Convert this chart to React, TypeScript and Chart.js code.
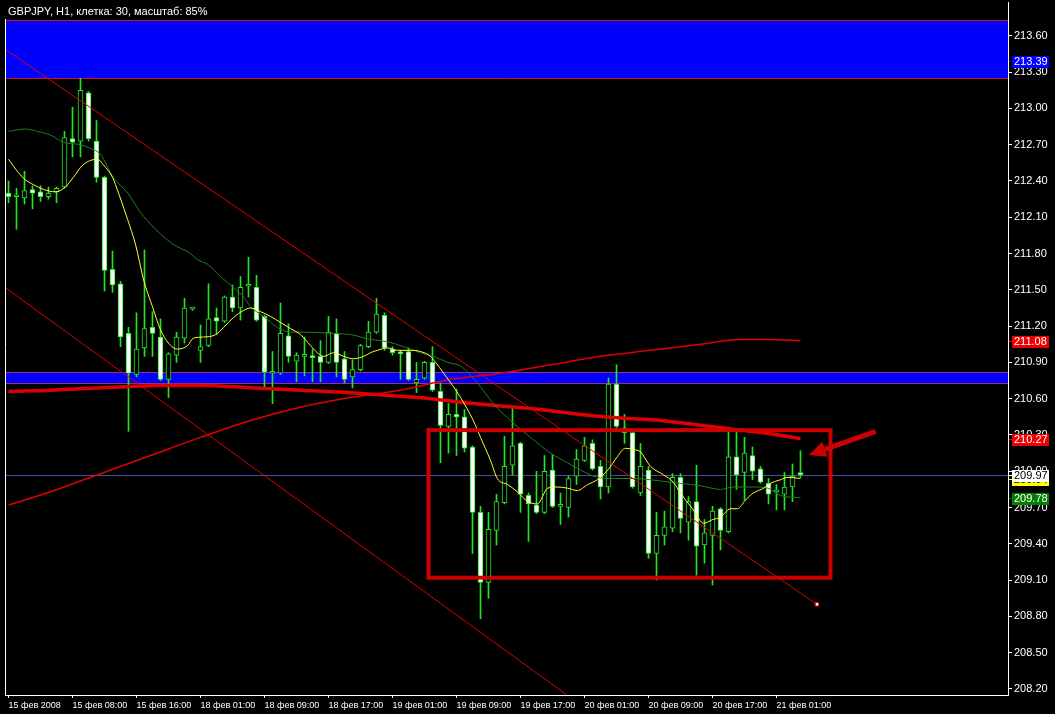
import React, { useEffect, useRef } from 'react';
import { Chart, registerables } from 'chart.js';

Chart.register(...registerables);

// ---- chart content -------------------------------------------------------

const chartTitle = 'GBPJPY, H1, клетка: 30, масштаб: 85%';

// hourly bars, one per index; labels every 8 bars
const timeTickIndex = [0, 8, 16, 24, 32, 40, 48, 56, 64, 72, 80, 88, 96];
const timeTickLabels = [
  '15 фев 2008', '15 фев 08:00', '15 фев 16:00', '18 фев 01:00', '18 фев 09:00',
  '18 фев 17:00', '19 фев 01:00', '19 фев 09:00', '19 фев 17:00', '20 фев 01:00',
  '20 фев 09:00', '20 фев 17:00', '21 фев 01:00',
];

const priceTicks = [
  213.6, 213.3, 213.0, 212.7, 212.4, 212.1, 211.8, 211.5, 211.2, 210.9,
  210.6, 210.3, 210.0, 209.7, 209.4, 209.1, 208.8, 208.5, 208.2,
];

const opens = [
  212.30, 212.27, 212.26, 212.33, 212.31, 212.27, 212.31, 212.35, 212.75, 212.73,
  213.13, 212.73, 212.43, 211.67, 211.55, 211.14, 210.80, 211.02, 211.19, 211.11,
  210.76, 210.96, 211.10, 211.34, 211.00, 211.04, 211.27, 211.24, 211.44, 211.35,
  211.53, 211.52, 211.28, 210.81, 210.81, 211.12, 210.91, 210.95, 210.95, 210.95,
  210.90, 211.14, 210.93, 210.78, 210.84, 211.03, 211.15, 211.29, 211.01, 210.98,
  210.99, 210.73, 210.77, 210.90, 210.66, 210.37, 210.47, 210.45, 210.20, 209.66,
  209.08, 209.51, 209.74, 210.05, 210.23, 209.80, 209.72, 209.66, 210.01, 209.71,
  209.70, 209.96, 210.09, 210.23, 210.04, 209.87, 210.72, 210.36, 210.32, 209.82,
  210.01, 209.32, 209.47, 209.53, 209.95, 209.58, 209.75, 209.39, 209.47, 209.69,
  209.50, 210.12, 209.99, 210.13, 210.02, 209.90, 209.83, 209.81, 209.87, 209.99,
];

const highs = [
  212.40, 212.34, 212.48, 212.36, 212.36, 212.35, 212.35, 212.81, 213.01, 213.25,
  213.14, 212.90, 212.44, 211.82, 211.57, 211.19, 211.31, 211.83, 211.32, 211.26,
  210.98, 211.15, 211.43, 211.35, 211.21, 211.55, 211.35, 211.45, 211.54, 211.61,
  211.77, 211.62, 211.29, 210.99, 211.39, 211.22, 210.98, 211.11, 211.01, 211.08,
  211.28, 211.26, 210.99, 210.92, 211.05, 211.24, 211.43, 211.31, 211.03, 211.00,
  211.02, 210.90, 210.91, 211.03, 210.73, 210.56, 210.68, 210.51, 210.21, 209.71,
  209.66, 209.81, 210.29, 210.52, 210.24, 209.82, 210.00, 210.13, 210.14, 209.82,
  209.96, 210.18, 210.28, 210.26, 210.09, 210.77, 210.88, 210.47, 210.33, 210.23,
  210.04, 209.66, 209.67, 209.98, 209.98, 209.79, 210.05, 209.60, 209.71, 209.70,
  210.33, 210.33, 210.28, 210.20, 210.04, 209.94, 209.89, 209.99, 210.06, 210.17,
];

const lows = [
  212.22, 212.00, 212.21, 212.17, 212.23, 212.25, 212.22, 212.34, 212.60, 212.60,
  212.73, 212.39, 211.49, 211.48, 211.03, 210.33, 210.78, 210.95, 210.95, 210.75,
  210.61, 210.90, 211.06, 211.33, 210.90, 211.03, 211.13, 211.23, 211.32, 211.25,
  211.44, 211.24, 210.69, 210.56, 210.80, 210.90, 210.74, 210.79, 210.74, 210.74,
  210.89, 210.78, 210.73, 210.69, 210.83, 211.02, 211.14, 211.00, 210.96, 210.76,
  210.75, 210.65, 210.76, 210.66, 210.07, 210.15, 210.13, 210.16, 209.32, 208.78,
  208.95, 209.39, 209.73, 209.97, 209.66, 209.42, 209.65, 209.65, 209.70, 209.56,
  209.62, 209.89, 210.08, 210.01, 209.77, 209.82, 210.36, 210.23, 209.86, 209.80,
  209.28, 209.10, 209.39, 209.50, 209.49, 209.43, 209.14, 209.24, 209.06, 209.35,
  209.49, 209.85, 209.76, 209.93, 209.90, 209.73, 209.68, 209.68, 209.75, 209.95,
];

const closes = [
  212.27, 212.27, 212.32, 212.30, 212.27, 212.30, 212.34, 212.76, 212.72, 213.15,
  212.75, 212.43, 211.66, 211.54, 211.11, 210.81, 211.01, 211.18, 211.14, 210.76,
  210.97, 211.11, 211.35, 211.34, 211.03, 211.26, 211.24, 211.44, 211.35, 211.52,
  211.53, 211.25, 210.82, 210.81, 211.14, 210.95, 210.96, 210.95, 210.94, 210.90,
  211.15, 210.90, 210.76, 210.84, 211.04, 211.15, 211.30, 211.02, 210.98, 210.97,
  210.76, 210.76, 210.90, 210.67, 210.38, 210.47, 210.45, 210.19, 209.66, 209.08,
  209.52, 209.75, 210.04, 210.21, 209.81, 209.73, 209.66, 210.00, 209.71, 209.71,
  209.94, 210.10, 210.21, 210.02, 209.87, 210.72, 210.37, 210.32, 209.87, 210.04,
  209.32, 209.47, 209.54, 209.95, 209.61, 209.75, 209.38, 209.49, 209.67, 209.51,
  210.12, 209.97, 210.15, 210.00, 209.91, 209.81, 209.83, 209.87, 209.96, 209.97,
];

// moving averages, [bar index, price]
const fastMA: [number, number][] = [
  [0, 212.58], [1.1, 212.48], [2.1, 212.41], [3.1, 212.37], [4.4, 212.33], [5.9, 212.31],
  [7.1, 212.35], [8.1, 212.43], [9.25, 212.53], [10.25, 212.57], [11.1, 212.58], [11.9, 212.53],
  [13, 212.43], [13.75, 212.30], [14.9, 212.08], [15.9, 211.87], [16.9, 211.58], [18, 211.36],
  [19, 211.17], [20, 211.06], [21.1, 211.01], [22.4, 211.04], [23.1, 211.10], [24.4, 211.11],
  [25.9, 211.13], [26.9, 211.19], [28.1, 211.27], [29.4, 211.33], [30.25, 211.35], [31.5, 211.32],
  [32.75, 211.28], [34, 211.23], [35.25, 211.18], [36.5, 211.13], [37.75, 211.04], [38.6, 210.98],
  [39.4, 210.95], [40.6, 210.98], [41.9, 210.95], [43.1, 210.93], [44.4, 210.95], [45.25, 210.98],
  [46.1, 211.00], [47.4, 211.02], [48.6, 211.00], [50.25, 211.00], [51.5, 210.99], [52.75, 210.95],
  [53.4, 210.90], [54.4, 210.81], [55.5, 210.71], [56.5, 210.61], [58.1, 210.42], [59, 210.28],
  [60.25, 210.09], [61.1, 209.94], [62.4, 209.89], [63.6, 209.83], [64.9, 209.75], [66.1, 209.73],
  [67.4, 209.86], [68.6, 209.87], [69.9, 209.86], [71.1, 209.84], [72.4, 209.89], [73.6, 209.93],
  [74.9, 210.01], [76.1, 210.12], [77.1, 210.19], [78.1, 210.18], [79, 210.16], [80.25, 210.04],
  [81.9, 209.97], [83.1, 209.91], [84, 209.82], [85.6, 209.68], [86.9, 209.57], [88, 209.60],
  [89, 209.62], [90.25, 209.69], [91.1, 209.69], [92.1, 209.76], [93.1, 209.82], [94.4, 209.86],
  [95.25, 209.90], [96.5, 209.93], [97.4, 209.95], [99, 209.94],
];

const slowMA: [number, number][] = [
  [0, 212.81], [2.1, 212.83], [3.6, 212.81], [5.25, 212.78], [6.9, 212.72], [9, 212.70],
  [10.25, 212.67], [11.5, 212.62], [13.1, 212.43], [14.9, 212.30], [16.5, 212.14], [18.1, 212.02],
  [20.5, 211.88], [22.75, 211.80], [23.6, 211.75], [24.9, 211.71], [26.5, 211.61], [28.1, 211.52],
  [29.4, 211.44], [30.25, 211.36], [31.9, 211.28], [33.6, 211.19], [35.25, 211.15], [37.4, 211.15],
  [40.25, 211.14], [42.75, 211.13], [45.25, 211.09], [47.4, 211.07], [49.4, 211.03], [51.5, 210.98],
  [53.1, 210.95], [54.9, 210.90], [56.5, 210.87], [58.6, 210.73], [60.6, 210.56], [62.75, 210.42],
  [65.25, 210.28], [67.75, 210.15], [69.9, 210.07], [71.5, 210.01], [73.6, 209.95], [75.6, 209.94],
  [78.1, 209.94], [81.5, 209.92], [84, 209.90], [86.5, 209.88], [89, 209.85], [90.6, 209.87],
  [93.1, 209.87], [94.9, 209.86], [96.5, 209.80], [99, 209.78],
];

const longMA: [number, number][] = [
  [0, 210.66], [5.25, 210.67], [11.5, 210.69], [15.25, 210.70], [19, 210.71], [24, 210.71],
  [30.25, 210.69], [36.5, 210.67], [42.75, 210.65], [49, 210.62], [52.75, 210.60], [56.5, 210.57],
  [61.5, 210.54], [66.5, 210.51], [71.5, 210.47], [76.5, 210.44], [81.5, 210.42], [86.5, 210.38],
  [91.5, 210.34], [95.25, 210.31], [99, 210.27],
];

const trendMA: [number, number][] = [
  [0, 209.72], [5.25, 209.83], [11.5, 209.98], [17.75, 210.13], [24, 210.28], [30.25, 210.42],
  [36.5, 210.53], [42.75, 210.61], [49, 210.67], [55.25, 210.76], [61.5, 210.81], [67.75, 210.88],
  [74, 210.95], [80.25, 211.00], [86.5, 211.05], [91.5, 211.09], [95.25, 211.09], [99, 211.08],
];

// channel lines: anchor bar index and price
const channelUpperIdx = [-0.44, 101.06];
const channelUpperPrice = [213.49, 208.9];
const channelLowerIdx = [-0.44, 69.8];
const channelLowerPrice = [211.52, 208.15];

// shaded price zones
const zoneHigh = [213.73, 210.82];
const zoneLow = [213.25, 210.73];

// range box and pointer
const rangeIdx = [52.5, 102.75];
const rangePrice = [210.34, 209.12];
const pointerIdx = [108.4, 100.05];
const pointerPrice = [210.33, 210.135];

const levelPrice = 213.39;

// ---- styling -------------------------------------------------------------

const GREEN = '#22e622';
const RED = '#dd0000';
const BOX_RED = '#cc0000';
const FONT = '"Liberation Sans", Arial, sans-serif';

const last = (s: [number, number][]) => s[s.length - 1][1];

const overlayPlugin = {
  id: 'terminalOverlay',
  beforeDatasetsDraw(chart: any) {
    const { ctx, chartArea: a } = chart;
    const y = chart.scales.y;
    ctx.save();
    ctx.beginPath();
    ctx.rect(a.left, a.top, a.right - a.left, a.bottom - a.top);
    ctx.clip();
    const edges = ['#d01818', '#a8287a'];
    zoneHigh.forEach((hi, k) => {
      const t = y.getPixelForValue(hi);
      const b = y.getPixelForValue(zoneLow[k]);
      ctx.fillStyle = '#0000ff';
      ctx.fillRect(a.left, t, a.right - a.left, b - t);
      ctx.strokeStyle = edges[k];
      ctx.lineWidth = 1;
      [t, b].forEach((py) => {
        const p = Math.round(py) + 0.5;
        ctx.beginPath();
        ctx.moveTo(a.left, p);
        ctx.lineTo(a.right, p);
        ctx.stroke();
      });
    });
    const bid = Math.round(y.getPixelForValue(closes[closes.length - 1])) + 0.5;
    ctx.strokeStyle = '#4a4aa8';
    ctx.beginPath();
    ctx.moveTo(a.left, bid);
    ctx.lineTo(a.right, bid);
    ctx.stroke();
    ctx.restore();
  },
  afterDatasetsDraw(chart: any) {
    const { ctx, chartArea: a } = chart;
    const x = chart.scales.x;
    const y = chart.scales.y;
    ctx.save();
    ctx.beginPath();
    ctx.rect(a.left, a.top, a.right - a.left, a.bottom - a.top);
    ctx.clip();
    // range box
    const x0 = x.getPixelForValue(rangeIdx[0]);
    const x1 = x.getPixelForValue(rangeIdx[1]);
    const y0 = y.getPixelForValue(rangePrice[0]);
    const y1 = y.getPixelForValue(rangePrice[1]);
    ctx.strokeStyle = BOX_RED;
    ctx.lineWidth = 4;
    ctx.strokeRect(x0, y0, x1 - x0, y1 - y0);
    // pointer arrow
    const tx = x.getPixelForValue(pointerIdx[0]);
    const ty = y.getPixelForValue(pointerPrice[0]);
    const hx = x.getPixelForValue(pointerIdx[1]);
    const hy = y.getPixelForValue(pointerPrice[1]);
    const ang = Math.atan2(hy - ty, hx - tx);
    const headLen = 17;
    const headHalf = 8;
    const bx = hx - headLen * Math.cos(ang);
    const by = hy - headLen * Math.sin(ang);
    ctx.strokeStyle = BOX_RED;
    ctx.lineWidth = 5;
    ctx.lineCap = 'butt';
    ctx.beginPath();
    ctx.moveTo(tx, ty);
    ctx.lineTo(bx, by);
    ctx.stroke();
    ctx.fillStyle = BOX_RED;
    ctx.beginPath();
    ctx.moveTo(hx, hy);
    ctx.lineTo(bx + headHalf * Math.sin(ang), by - headHalf * Math.cos(ang));
    ctx.lineTo(bx - headHalf * Math.sin(ang), by + headHalf * Math.cos(ang));
    ctx.closePath();
    ctx.fill();
    ctx.restore();
  },
  afterDraw(chart: any) {
    const { ctx, chartArea: a } = chart;
    const y = chart.scales.y;
    ctx.save();
    // left frame edge
    ctx.strokeStyle = '#ffffff';
    ctx.lineWidth = 1;
    ctx.beginPath();
    ctx.moveTo(Math.round(a.left) + 0.5, a.top);
    ctx.lineTo(Math.round(a.left) + 0.5, a.bottom);
    ctx.stroke();

    // price tags on the scale
    const tags: [number, string, string][] = [
      [levelPrice, '#0000ff', '#ffffff'],
      [last(trendMA), '#ee0000', '#ffffff'],
      [last(longMA), '#ee0000', '#ffffff'],
      [last(fastMA), '#ffff00', '#000000'],
      [closes[closes.length - 1], '#ffffff', '#000000'],
      [last(slowMA), '#008000', '#ffffff'],
    ];
    ctx.font = `11px ${FONT}`;
    ctx.textBaseline = 'middle';
    ctx.textAlign = 'left';
    tags.forEach(([v, bg, fg]) => {
      const py = Math.round(y.getPixelForValue(v));
      ctx.fillStyle = bg;
      ctx.fillRect(a.right + 1, py, 4, 1);
      ctx.fillRect(a.right + 4, py - 5, 37, 12);
      ctx.fillStyle = fg;
      ctx.fillText(v.toFixed(2), a.right + 6, py + 1);
    });

    // chart caption
    ctx.font = `11px ${FONT}`;
    const w = ctx.measureText(chartTitle).width;
    ctx.fillStyle = '#000000';
    ctx.fillRect(0, 0, w + 14, 19);
    ctx.fillStyle = '#ffffff';
    ctx.textBaseline = 'middle';
    ctx.fillText(chartTitle, 8, 12);
    ctx.restore();
  },
};

const series = (s: [number, number][]) => s.map(([x, v]) => ({ x, y: v }));

// keep the plot frame exactly where the layout padding puts it
const noScalePadding = (s: any) => {
  s.paddingTop = 0;
  s.paddingBottom = 0;
  s.paddingLeft = 0;
  s.paddingRight = 0;
};

export default function App() {
  const canvasRef = useRef<HTMLCanvasElement>(null);

  useEffect(() => {
    const canvas = canvasRef.current;
    if (!canvas) return;

    const wickData = highs.map((h, i) => ({ x: i, y: [lows[i], h] }));
    const bodyData = opens.map((o, i) => ({ x: i, y: [o, closes[i]] }));
    const bodyFill = opens.map((o, i) => (closes[i] < o ? '#ffffff' : '#000000'));

    const lineBase = {
      type: 'line' as const,
      pointRadius: 0,
      fill: false,
      cubicInterpolationMode: 'monotone' as const,
    };

    const chart = new Chart(canvas, {
      type: 'bar',
      data: {
        datasets: [
          {
            type: 'bar',
            data: wickData as any,
            backgroundColor: GREEN,
            borderWidth: 0,
            barThickness: 1,
            grouped: false,
            order: 9,
          },
          {
            type: 'bar',
            data: bodyData as any,
            backgroundColor: bodyFill,
            borderColor: GREEN,
            borderWidth: 1,
            borderSkipped: false,
            barThickness: 5,
            minBarLength: 2,
            grouped: false,
            order: 8,
          },
          { ...lineBase, data: series(longMA), borderColor: '#e00000', borderWidth: 3.5, order: 6 },
          { ...lineBase, data: series(trendMA), borderColor: '#e00000', borderWidth: 1.5, order: 6 },
          { ...lineBase, data: series(slowMA), borderColor: '#1f7f1f', borderWidth: 1, order: 5 },
          { ...lineBase, data: series(fastMA), borderColor: '#ffff33', borderWidth: 1, order: 4 },
          {
            type: 'line',
            data: channelUpperIdx.map((x, k) => ({ x, y: channelUpperPrice[k] })),
            borderColor: RED,
            borderWidth: 1,
            pointRadius: [0, 2.5],
            pointStyle: 'rect',
            pointBackgroundColor: '#ffffff',
            pointBorderColor: RED,
            pointBorderWidth: 1,
            order: 2,
          },
          {
            type: 'line',
            data: channelLowerIdx.map((x, k) => ({ x, y: channelLowerPrice[k] })),
            borderColor: RED,
            borderWidth: 1,
            pointRadius: 0,
            order: 2,
          },
        ] as any,
      },
      options: {
        animation: false,
        responsive: false,
        devicePixelRatio: 1,
        events: [],
        layout: { autoPadding: false, padding: { left: 5, top: 2, right: 0, bottom: 0 } },
        plugins: { legend: { display: false }, tooltip: { enabled: false } },
        scales: {
          x: {
            type: 'linear',
            min: -0.4375,
            max: 124.9375,
            offset: false,
            bounds: 'data',
            afterFit: (s: any) => {
              s.height = 19;
              noScalePadding(s);
            },
            afterBuildTicks: (s: any) => {
              s.ticks = timeTickIndex.map((value) => ({ value }));
            },
            grid: {
              offset: false,
              drawOnChartArea: false,
              drawTicks: true,
              tickLength: 3,
              color: '#ffffff',
            },
            border: { display: true, color: '#ffffff', width: 1 },
            ticks: {
              autoSkip: false,
              maxRotation: 0,
              minRotation: 0,
              align: 'start',
              padding: 2,
              color: '#ffffff',
              font: { family: FONT, size: 9 },
              callback: (v: any) => {
                const k = timeTickIndex.indexOf(Number(v));
                return k >= 0 ? timeTickLabels[k] : '';
              },
            },
          },
          y: {
            type: 'linear',
            position: 'right',
            min: 208.15,
            max: 213.88,
            beginAtZero: false,
            bounds: 'data',
            afterFit: (s: any) => {
              s.width = 47;
              noScalePadding(s);
            },
            afterBuildTicks: (s: any) => {
              s.ticks = priceTicks.map((value) => ({ value }));
            },
            grid: {
              drawOnChartArea: false,
              drawTicks: true,
              tickLength: 4,
              color: '#ffffff',
            },
            border: { display: true, color: '#ffffff', width: 1 },
            ticks: {
              autoSkip: false,
              padding: 2,
              color: '#ffffff',
              font: { family: FONT, size: 11 },
              callback: (v: any) => Number(v).toFixed(2),
            },
          },
        },
      } as any,
      plugins: [overlayPlugin],
    });

    return () => chart.destroy();
  }, []);

  return (
    <div
      style={{
        position: 'fixed',
        left: 0,
        top: 0,
        width: 1055,
        height: 714,
        background: '#000000',
      }}
    >
      <canvas ref={canvasRef} width={1055} height={714} style={{ display: 'block' }} />
    </div>
  );
}
